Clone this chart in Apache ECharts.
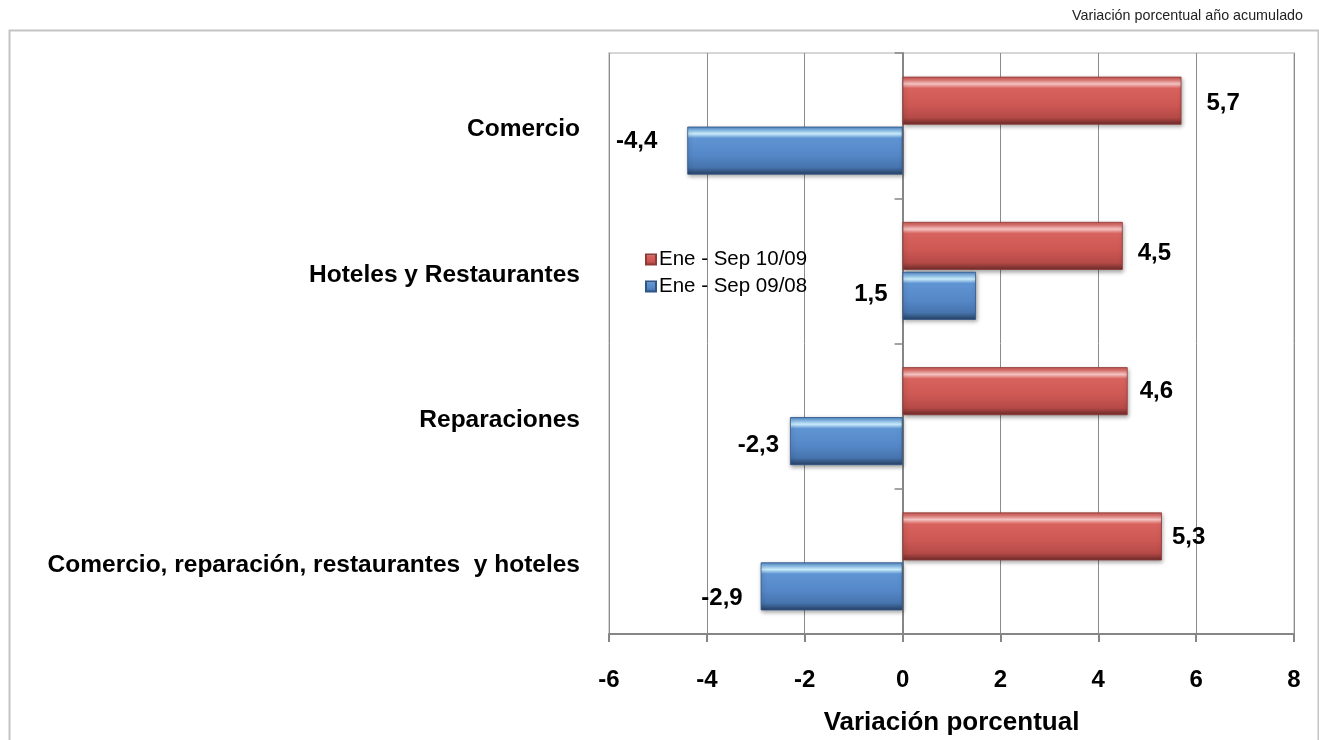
<!DOCTYPE html>
<html>
<head>
<meta charset="utf-8">
<script src="https://cdn.jsdelivr.net/npm/echarts@6/dist/echarts.min.js"></script>
<style>
html,body{margin:0;padding:0;background:#fff;}
#c{width:1319px;height:740px;}
</style>
</head>
<body>
<div id="c"></div>
<script>
// Categories listed bottom -> top (ECharts category y axis grows upward)
const categories = ['Comercio, reparación, restaurantes  y hoteles', 'Reparaciones', 'Hoteles y Restaurantes', 'Comercio'];
const seriesNames = ['Ene - Sep 10/09', 'Ene - Sep 09/08'];
const values1009 = [5.3, 4.6, 4.5, 5.7];
const values0908 = [-2.9, -2.3, 1.5, -4.4];
const xTicks = [-6, -4, -2, 0, 2, 4, 6, 8];
const titleText = 'Variación porcentual año acumulado';
const axisName = 'Variación porcentual';

// label nudges (style only): [distance, dy]
const redLabelNudge = [[10, 1], [12, 0], [15, 7], [25, 3]];
const blueLabelNudge = [[18, 12], [11, 4], [15, -1], [30, -9]];

const FONT = '"Liberation Sans", Arial, sans-serif';

function fmt(v) { return String(v.toFixed(1)).replace('.', ','); }

const redGrad = new echarts.graphic.LinearGradient(0, 0, 0, 1, [
  {offset: 0, color: '#c4504c'},
  {offset: 0.07, color: '#e07a76'},
  {offset: 0.15, color: '#f4c4c2'},
  {offset: 0.24, color: '#d8625e'},
  {offset: 0.6, color: '#cc5753'},
  {offset: 0.85, color: '#b54a47'},
  {offset: 1, color: '#6a2a28'}
]);
const blueGrad = new echarts.graphic.LinearGradient(0, 0, 0, 1, [
  {offset: 0, color: '#4a7fc0'},
  {offset: 0.07, color: '#86b9e6'},
  {offset: 0.15, color: '#c9ecfb'},
  {offset: 0.24, color: '#5f94d2'},
  {offset: 0.6, color: '#5587c7'},
  {offset: 0.85, color: '#4674ad'},
  {offset: 1, color: '#263f62'}
]);

function buildData(vals, nudges, isRed) {
  return vals.map((v, i) => ({
    value: v,
    label: {
      position: isRed ? 'right' : 'left',
      distance: nudges[i][0],
      offset: [0, nudges[i][1]]
    }
  }));
}

const labelStyle = {
  show: true,
  formatter: p => fmt(p.value),
  fontFamily: FONT,
  fontWeight: 'bold',
  fontSize: 24,
  color: '#000'
};

const chart = echarts.init(document.getElementById('c'), null, {renderer: 'canvas'});
chart.setOption({
  animation: false,
  backgroundColor: '#fff',
  textStyle: {fontFamily: FONT},
  title: {
    text: titleText,
    right: 11,
    top: 4,
    textStyle: {fontFamily: FONT, fontWeight: 'normal', fontSize: 14.3, color: '#222'}
  },
  graphic: [{
    type: 'rect',
    left: 7, top: 28,
    shape: {width: 1309, height: 720},
    style: {fill: 'none', stroke: '#c4c4c4', lineWidth: 2},
    silent: true,
    z: -1
  }],
  legend: {
    orient: 'vertical',
    left: 640,
    top: 244,
    itemWidth: 10,
    itemHeight: 10,
    itemGap: 6,
    icon: 'rect',
    data: seriesNames,
    textStyle: {fontFamily: FONT, fontSize: 20.5, color: '#000', padding: [0, 0, 0, -2]}
  },
  grid: {
    left: 609, right: 25, top: 53, bottom: 106,
    outerBoundsMode: 'none',
    containLabel: false,
    show: true,
    borderColor: '#d6d6d6',
    borderWidth: 2,
    backgroundColor: 'transparent'
  },
  xAxis: {
    type: 'value',
    min: xTicks[0],
    max: xTicks[xTicks.length - 1],
    interval: 2,
    name: axisName,
    nameLocation: 'middle',
    nameGap: 76,
    nameTextStyle: {fontFamily: FONT, fontWeight: 'bold', fontSize: 26, color: '#000'},
    axisLine: {show: true, onZero: false, lineStyle: {color: '#868686', width: 2}},
    axisTick: {show: true, length: 8, lineStyle: {color: '#868686', width: 2}},
    axisLabel: {fontFamily: FONT, fontWeight: 'bold', fontSize: 24, color: '#000', margin: 34},
    splitLine: {show: true, lineStyle: {color: '#8c8c8c', width: 1}}
  },
  yAxis: [{
    type: 'category',
    data: categories,
    position: 'left',
    axisLine: {show: false, onZero: false},
    axisTick: {show: false},
    axisLabel: {
      fontFamily: FONT, fontWeight: 'bold', fontSize: 24.5, color: '#000',
      margin: 29, verticalAlign: 'top', lineHeight: 8
    }
  }, {
    type: 'category',
    data: categories,
    position: 'left',
    axisLine: {show: true, onZero: true, lineStyle: {color: '#868686', width: 2}},
    axisTick: {show: true, length: 8, lineStyle: {color: '#868686', width: 1.5}},
    axisLabel: {show: false}
  }],
  series: [{
    name: seriesNames[0],
    type: 'bar',
    yAxisIndex: 0,
    data: buildData(values1009, redLabelNudge, true),
    barWidth: 48,
    barGap: '4%',
    itemStyle: {
      color: redGrad,
      borderColor: '#8e3a37',
      borderWidth: 0.8,
      shadowBlur: 4,
      shadowColor: 'rgba(0,0,0,0.35)',
      shadowOffsetY: 2,
      shadowOffsetX: 1
    },
    label: labelStyle,
    z: 3
  }, {
    name: seriesNames[1],
    type: 'bar',
    yAxisIndex: 0,
    data: buildData(values0908, blueLabelNudge, false),
    barWidth: 48,
    barGap: '4%',
    itemStyle: {
      color: blueGrad,
      borderColor: '#2f5588',
      borderWidth: 0.8,
      shadowBlur: 4,
      shadowColor: 'rgba(0,0,0,0.35)',
      shadowOffsetY: 2,
      shadowOffsetX: 1
    },
    label: labelStyle,
    z: 3
  }]
});
</script>
</body>
</html>
